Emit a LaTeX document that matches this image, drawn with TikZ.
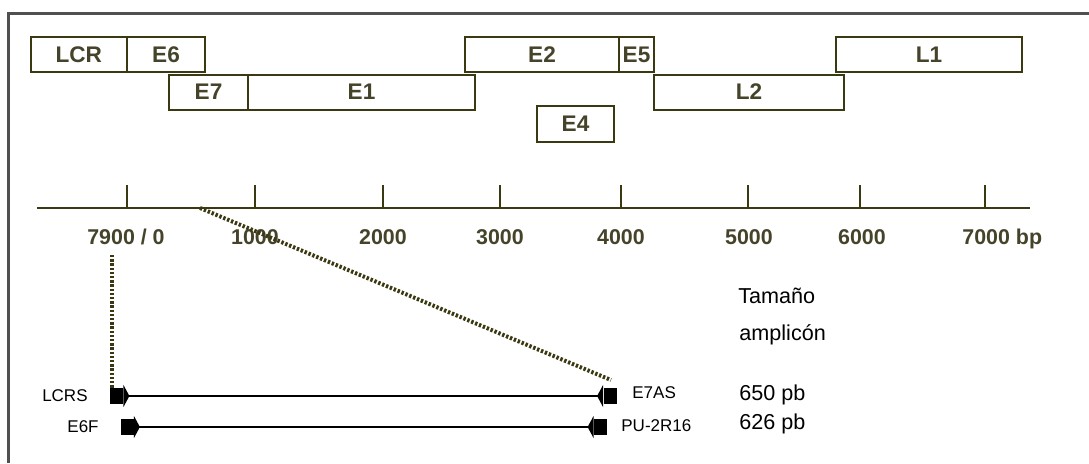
\documentclass[tikz,border=0pt]{standalone}
\usepackage{fontspec}
\setmainfont{Liberation Sans}
\usepackage{tikz}
\usetikzlibrary{arrows.meta,calc}
\definecolor{oliva}{HTML}{3B3912}
\definecolor{olivaT}{HTML}{45432A}
\definecolor{marcoC}{HTML}{505050}
\tikzset{
  gen/.style={rectangle, draw=oliva, line width=1pt, inner sep=0pt, text=olivaT,
              font=\fontsize{11.3}{13}\selectfont\bfseries, minimum height=17.5pt},
  cifra/.style={inner sep=0pt, anchor=base, text=olivaT, font=\fontsize{10.7}{12}\selectfont\bfseries},
  eje/.style={line width=1pt, draw=oliva},
  punt/.style={draw=oliva, line width=2pt, dash pattern=on 1.2pt off 0.9pt},
  ceb/.style={rectangle, fill=black, inner sep=0pt, minimum width=6.5pt, minimum height=8pt},
  amp/.style={line width=0.8pt, draw=black,
              {Triangle[reversed, width=11pt, length=3pt]}-{Triangle[reversed, width=11pt, length=3pt]}},
  etq/.style={inner sep=0pt, font=\fontsize{8.5}{10}\selectfont},
  tam/.style={inner sep=0pt, anchor=base west, font=\fontsize{10.8}{13}\selectfont},
}
\begin{document}
\begin{tikzpicture}[x=0.5pt, y=-0.5pt]
    \useasboundingbox (0,0) rectangle (1089,463);
    % Marco
    \draw[marcoC, line width=1.4pt] (8.8,463) -- (8.8,13.3) -- (1089,13.3);
    % Genes (fila 1)
    \node[gen, minimum width=48.25pt] (lcr) at (78.75,54.5) {LCR};
    \node[gen, minimum width=39pt] (e6) at (166,54.5) {E6};
    \node[gen, minimum width=77pt] (e2) at (542,54.5) {E2};
    \node[gen, minimum width=17.5pt] (e5) at (636.5,54.5) {E5};
    \node[gen, minimum width=93pt] (l1) at (929,54.5) {L1};
    % Genes (fila 2)
    \node[gen, minimum width=39.5pt] (e7) at (208.5,92) {E7};
    \node[gen, minimum width=113.5pt] (e1) at (361.5,92) {E1};
    \node[gen, minimum width=95pt] (l2) at (749,92) {L2};
    \node[gen, minimum width=38.5pt, minimum height=18pt] (e4) at (575.5,124) {E4};
    % Eje
    \coordinate (ejeI) at (36.8,207.5);
    \coordinate (ejeF) at (1030,207.5);
    \draw[eje] (ejeI) -- (ejeF);
    \draw[eje] (127.3,207.5) -- (127.3,185); \draw[eje] (255,207.5) -- (255,185);
    \draw[eje] (383.4,207.5) -- (383.4,185); \draw[eje] (499.8,207.5) -- (499.8,185);
    \draw[eje] (620.5,207.5) -- (620.5,185); \draw[eje] (747.6,207.5) -- (747.6,185);
    \draw[eje] (860.4,207.5) -- (860.4,185); \draw[eje] (984.7,207.5) -- (984.7,185);
    \node[cifra] (n0) at (126,244.4) {7900 / 0};
    \node[cifra] (n1) at (255,244.4) {1000};
    \node[cifra] (n2) at (383,244.4) {2000};
    \node[cifra] (n3) at (500,244.4) {3000};
    \node[cifra] (n4) at (621,244.4) {4000};
    \node[cifra] (n5) at (749,244.4) {5000};
    \node[cifra] (n6) at (862,244.4) {6000};
    \node[cifra, anchor=base west] (n7) at (962,244.4) {7000 bp};
    % Cebadores
    \node[ceb] (pLCRS) at (116.5,396) {};
    \node[ceb] (pE7AS) at (610,396) {};
    \node[ceb] (pE6F) at (127,427) {};
    \node[ceb] (pPU) at (600.5,427) {};
    \draw[amp] (pLCRS.east) -- (pE7AS.west);
    \draw[amp] (pE6F.east) -- (pPU.west);
    \node[etq, anchor=base east] (tLCRS) at (88,401) {LCRS};
    \node[etq, anchor=base east] (tE6F) at (99,432) {E6F};
    \node[etq, anchor=base west] (tE7AS) at (632,398) {E7AS};
    \node[etq, anchor=base west] (tPU) at (621,431) {PU-2R16};
    % Tamaño
    \node[tam] (tam1) at (738,303.5) {Tamaño};
    \node[tam] (tam2) at (739,340) {amplicón};
    \node[tam] (s1) at (739,400.5) {650 pb};
    \node[tam] (s2) at (739,429.5) {626 pb};
    % Punteadas
    \coordinate (v1) at (112,255);
    \coordinate (d1) at (200,208);
    \coordinate (d2) at (611,380);
    \draw[punt] (v1) -- (v1 |- pLCRS.north);
    \draw[punt] (d1) -- (d2);
\end{tikzpicture}
\end{document}
